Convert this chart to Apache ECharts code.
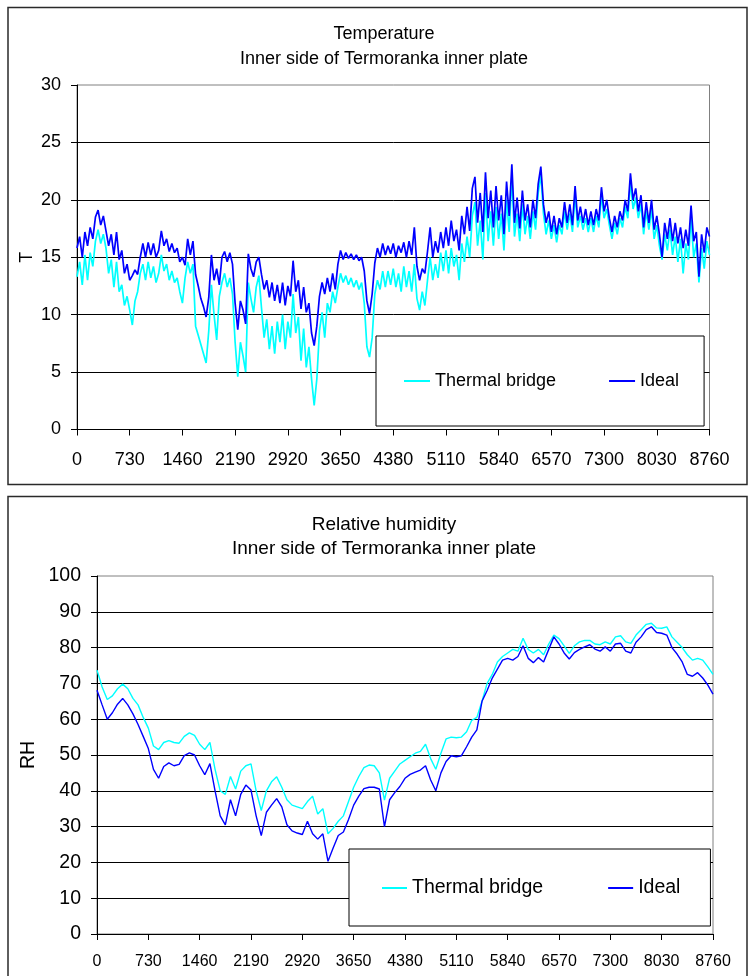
<!DOCTYPE html>
<html>
<head>
<meta charset="utf-8">
<script src="https://cdn.jsdelivr.net/npm/echarts@6/dist/echarts.min.js"></script>
<style>
  html, body { margin: 0; padding: 0; background: #fff; }
  #chart { width: 748px; height: 976px; }
</style>
</head>
<body>
<div id="chart"></div>
<script>
// Hours of the year on the x axis; one sample every TEMP_STEP / RH_STEP hours.
const TEMP_STEP = 36.5;
const RH_STEP = 73;
const seriesNames = ['Thermal bridge', 'Ideal'];

// Temperature, inner side of the inner plate (°C)
const tempThermalBridge = [
  13.3, 14.6, 12.6, 15.2, 13.0, 15.4, 14.2, 16.4, 17.4, 16.2,
  17.0, 15.8, 13.6, 14.8, 12.4, 14.6, 12.0, 12.6, 10.8, 11.6,
  10.4, 9.1, 11.2, 12.0, 13.6, 14.4, 13.0, 14.6, 13.2, 14.2,
  12.8, 13.6, 15.2, 13.8, 14.4, 13.0, 13.8, 12.8, 13.2, 12.0,
  11.0, 13.2, 14.6, 13.6, 14.4, 9.0, 8.2, 7.4, 6.6, 5.8,
  8.6, 12.6, 10.0, 7.8, 11.6, 12.8, 13.6, 12.4, 13.2, 11.8,
  7.6, 4.6, 7.6, 6.4, 5.0, 12.8, 11.4, 10.2, 12.4, 13.4,
  10.6, 8.0, 9.6, 7.0, 9.0, 6.6, 9.4, 7.6, 10.0, 7.0,
  9.4, 8.0, 11.8, 8.4, 9.8, 6.0, 8.8, 5.4, 7.2, 4.4,
  2.1, 4.4, 8.6, 10.2, 8.0, 11.0, 10.2, 12.0, 11.0, 12.4,
  13.6, 12.8, 13.4, 12.6, 13.2, 12.4, 13.0, 12.2, 12.8, 11.0,
  7.2, 6.3, 8.0, 11.8, 13.0, 12.2, 13.8, 12.4, 13.8, 12.6,
  14.0, 12.4, 13.6, 12.0, 14.2, 12.4, 13.8, 12.0, 14.4, 11.4,
  10.4, 12.0, 10.8, 13.0, 15.0, 13.0, 14.4, 13.2, 15.4, 13.8,
  15.6, 13.6, 15.8, 14.2, 15.2, 13.0, 16.2, 14.6, 16.8, 15.0,
  18.6, 19.8, 16.0, 18.2, 14.8, 20.6, 16.4, 19.0, 16.0, 19.4,
  16.6, 18.8, 15.6, 20.0, 17.2, 22.0, 16.8, 18.8, 16.4, 19.6,
  17.0, 18.6, 16.6, 19.0, 17.4, 20.6, 22.2, 18.8, 17.0, 18.2,
  16.6, 17.8, 16.3, 17.8, 17.0, 19.0, 17.4, 18.8, 17.2, 20.4,
  17.6, 18.6, 17.4, 18.4, 17.2, 18.4, 17.2, 18.6, 17.6, 20.4,
  18.4, 19.2, 17.8, 16.6, 18.0, 17.0, 18.4, 17.6, 19.4, 18.4,
  21.6, 19.2, 20.2, 18.4, 19.6, 17.0, 19.0, 17.4, 19.2, 16.6,
  17.8, 16.0, 14.8, 17.0, 15.6, 17.4, 15.2, 16.8, 14.6, 16.6,
  13.6, 16.2, 14.8, 18.4, 15.0, 16.2, 12.8, 15.8, 14.0, 16.4,
  15.2
];
const tempIdeal = [
  15.8, 16.8, 15.0, 17.2, 16.0, 17.6, 16.6, 18.5, 19.1, 17.8,
  18.6, 17.3, 16.0, 17.0, 15.2, 17.2, 14.8, 15.6, 13.6, 14.4,
  13.0, 13.4, 13.9, 13.5, 15.0, 16.2, 15.0, 16.3, 15.2, 16.2,
  15.0, 15.6, 17.3, 16.0, 16.6, 15.5, 16.2, 15.4, 15.8, 14.6,
  15.0, 14.3, 16.6, 15.2, 16.4, 13.5, 12.5, 11.4, 10.7, 9.8,
  11.5, 15.2, 13.0, 14.0, 12.6, 15.0, 15.5, 14.6, 15.4, 14.4,
  11.0, 8.7, 11.2, 10.4, 9.2, 15.3, 14.0, 13.3, 14.6, 15.0,
  13.5, 12.2, 13.0, 11.5, 12.8, 11.2, 12.6, 11.0, 12.8, 10.8,
  12.5, 11.6, 14.7, 12.0, 13.0, 10.5, 12.4, 10.2, 11.0, 8.4,
  7.3, 9.0, 11.6, 12.8, 11.8, 13.2, 12.0, 13.6, 12.2, 14.4,
  15.6, 14.8, 15.4, 14.9, 15.3, 14.8, 15.2, 14.7, 15.0, 13.8,
  11.2, 10.1, 11.8, 14.5, 15.8, 15.0, 16.2, 15.2, 16.0, 15.3,
  16.2, 15.0, 16.0, 15.4, 16.3, 15.0, 16.4, 15.2, 17.6, 14.2,
  13.0, 14.0, 13.6, 15.5, 17.6, 15.0, 16.4, 15.4, 17.2, 15.8,
  17.6, 16.0, 18.2, 16.4, 17.4, 15.6, 18.6, 17.0, 19.4, 17.3,
  21.0, 22.0, 18.0, 20.6, 17.2, 22.4, 18.4, 20.8, 17.6, 21.2,
  18.2, 20.4, 17.0, 21.6, 18.6, 23.1, 18.0, 20.2, 17.5, 20.8,
  18.2, 19.6, 17.6, 20.0, 18.4, 21.4, 22.9, 19.6, 18.0, 19.0,
  17.2, 18.6, 17.0, 18.4, 17.6, 19.8, 18.0, 19.6, 17.8, 21.2,
  18.2, 19.4, 18.0, 19.2, 17.8, 19.0, 17.8, 19.2, 18.2, 21.1,
  19.0, 20.0, 18.4, 17.2, 18.6, 17.6, 19.0, 18.2, 20.0, 19.0,
  22.3, 20.0, 21.0, 19.0, 20.4, 17.6, 19.8, 18.0, 20.0, 17.4,
  18.6, 17.0, 15.0, 18.0, 16.6, 18.4, 16.4, 18.0, 16.2, 17.6,
  15.8, 17.4, 16.0, 19.5, 16.4, 17.2, 13.3, 17.0, 15.4, 17.6,
  16.8
];

// Relative humidity, inner side of the inner plate (%)
const rhThermalBridge = [
  73.7, 69.0, 65.5, 66.5, 68.5, 69.8, 68.5, 65.8, 64.0, 60.5,
  57.5, 52.5, 51.5, 53.5, 54.0, 53.5, 53.3, 55.2, 56.2, 55.5,
  53.0, 51.5, 53.5, 46.0, 40.0, 39.0, 44.0, 40.5, 45.5, 47.0,
  47.5, 40.0, 34.5, 40.0, 42.5, 43.9, 41.0, 37.5, 36.0, 35.5,
  35.0, 37.0, 38.5, 33.5, 35.0, 28.0, 29.5, 31.5, 33.0, 37.0,
  41.0, 44.0, 46.5, 47.2, 47.0, 45.0, 37.4, 43.5, 45.5, 47.5,
  48.5, 49.5, 50.5, 51.0, 53.0, 49.0, 46.0, 50.5, 54.5, 55.0,
  54.8, 55.0, 56.5, 59.7, 60.5, 65.0, 70.0, 72.5, 76.0, 77.5,
  78.5, 79.5, 79.0, 82.6, 79.5, 78.5, 79.5, 78.0, 81.0, 83.5,
  82.5, 80.5, 78.4, 80.5, 81.6, 82.0, 82.0, 81.0, 80.8, 81.6,
  81.0, 83.0, 83.3, 81.6, 81.2, 83.5, 85.0, 86.5, 86.8, 85.5,
  85.4, 85.8, 83.0, 81.5, 80.0, 78.0, 76.5, 77.0, 76.5, 74.6,
  72.5
];
const rhIdeal = [
  68.1, 64.0, 60.0, 61.8, 64.2, 65.8, 64.0, 61.5, 58.5, 55.2,
  51.8, 46.0, 43.5, 46.8, 47.8, 47.0, 47.4, 49.8, 50.6, 50.0,
  47.0, 44.5, 47.6, 40.0, 33.0, 30.5, 37.5, 33.0, 39.0, 41.6,
  40.2, 33.0, 27.5, 34.0, 36.0, 37.8, 35.5, 30.5, 28.8, 28.2,
  27.8, 31.5, 28.0, 26.5, 28.0, 20.3, 24.0, 27.5, 28.5, 32.0,
  36.0, 38.5, 40.6, 41.0, 41.0, 40.5, 30.0, 37.5, 39.5, 41.2,
  43.5, 44.6, 45.2, 45.8, 47.0, 43.0, 40.0, 45.0, 48.2, 49.8,
  49.5, 49.8, 52.3, 55.0, 57.0, 65.0, 68.0, 71.5, 74.0, 76.5,
  77.0, 76.5, 77.5, 80.5, 77.0, 75.8, 77.2, 76.0, 79.5, 83.0,
  81.0, 78.5, 76.8, 78.6, 79.5, 80.2, 80.8, 79.6, 79.0, 80.2,
  79.0, 81.0, 81.2, 79.0, 78.5, 81.5, 83.0, 85.0, 85.8, 84.2,
  84.0, 83.5, 80.0, 78.2, 76.0, 72.5, 72.0, 73.0, 71.5, 69.5,
  67.0
];

const COLOR_BRIDGE = '#00FFFF';
const COLOR_IDEAL = '#0000FF';
const FONT = 'Liberation Sans, Arial, sans-serif';

// pair each sample with its hour of the year
function withHours(values, step) {
  return values.map((v, i) => [i * step, v]);
}

function lineSeries(name, values, step, color, axisIndex, width) {
  return {
    name: name,
    type: 'line',
    xAxisIndex: axisIndex,
    yAxisIndex: axisIndex,
    data: withHours(values, step),
    symbol: 'none',
    showSymbol: false,
    sampling: null,
    lineStyle: { color: color, width: width },
    itemStyle: { color: color },
    emphasis: { disabled: true }
  };
}

function hourAxis(gridIndex, fontSize, margin) {
  return {
    type: 'value',
    gridIndex: gridIndex,
    min: 0, max: 8760, interval: 730,
    axisLine: { show: true, lineStyle: { color: '#000', width: 1 } },
    axisTick: { show: true, inside: false, length: 6, lineStyle: { color: '#000' } },
    axisLabel: {
      color: '#000', fontSize: fontSize, fontFamily: FONT, margin: margin,
      formatter: (v) => String(v)
    },
    splitLine: { show: false }
  };
}

function valueAxis(gridIndex, max, interval, name, fontSize, nameGap) {
  return {
    type: 'value',
    gridIndex: gridIndex,
    min: 0, max: max, interval: interval,
    name: name,
    nameLocation: 'middle',
    nameRotate: 90,
    nameGap: nameGap,
    nameMoveOverlap: false,
    nameTextStyle: { color: '#000', fontSize: fontSize, fontFamily: FONT },
    axisLine: { show: true, lineStyle: { color: '#000', width: 1 } },
    axisTick: { show: true, inside: false, length: 6, lineStyle: { color: '#000' } },
    axisLabel: { color: '#000', fontSize: fontSize, fontFamily: FONT, margin: 16 },
    splitLine: { show: true, showMaxLine: false, lineStyle: { color: '#000', width: 1 } }
  };
}

const chart = echarts.init(document.getElementById('chart'), null, { renderer: 'canvas' });

chart.setOption({
  animation: false,
  backgroundColor: '#fff',
  textStyle: { fontFamily: FONT },
  title: [
    {
      text: 'Temperature\nInner side of Termoranka inner plate',
      left: 384, top: 22, textAlign: 'center', padding: 0,
      textStyle: { fontSize: 18, fontWeight: 'normal', color: '#000', lineHeight: 25, fontFamily: FONT }
    },
    {
      text: 'Relative humidity\nInner side of Termoranka inner plate',
      left: 384, top: 513, textAlign: 'center', padding: 0,
      textStyle: { fontSize: 19, fontWeight: 'normal', color: '#000', lineHeight: 24, fontFamily: FONT }
    }
  ],
  grid: [
    { left: 77, right: 38.5, top: 85, bottom: 546.5, show: true, borderColor: '#808080', borderWidth: 1, containLabel: false },
    { left: 97, right: 35, top: 576, bottom: 42, show: true, borderColor: '#808080', borderWidth: 1, containLabel: false }
  ],
  xAxis: [hourAxis(0, 18, 22), hourAxis(1, 16, 19.5)],
  yAxis: [valueAxis(0, 30, 5, 'T', 18, 41), valueAxis(1, 100, 10, 'RH', 19.5, 58)],
  legend: [
    {
      data: seriesNames,
      left: 376, top: 336,
      orient: 'horizontal',
      icon: 'rect', itemWidth: 26, itemHeight: 2, itemGap: 53,
      padding: [35, 25, 35, 28],
      borderColor: '#000', borderWidth: 1, backgroundColor: '#fff',
      selectedMode: false,
      textStyle: { color: '#000', fontSize: 18, lineHeight: 20, fontFamily: FONT }
    },
    {
      data: seriesNames,
      left: 349, top: 849,
      orient: 'horizontal',
      icon: 'rect', itemWidth: 25, itemHeight: 2, itemGap: 65,
      padding: [29, 30, 28, 33],
      borderColor: '#000', borderWidth: 1, backgroundColor: '#fff',
      selectedMode: false,
      textStyle: { color: '#000', fontSize: 19.5, lineHeight: 20, fontFamily: FONT }
    }
  ],
  graphic: [
    { type: 'rect', silent: true, z: 100,
      shape: { x: 8, y: 7.5, width: 739, height: 477 },
      style: { fill: 'none', stroke: '#2a2a2a', lineWidth: 1.5 } },
    { type: 'rect', silent: true, z: 100,
      shape: { x: 8, y: 496.5, width: 739, height: 500 },
      style: { fill: 'none', stroke: '#2a2a2a', lineWidth: 1.5 } }
  ],
  series: [
    lineSeries(seriesNames[0], tempThermalBridge, TEMP_STEP, COLOR_BRIDGE, 0, 1.7),
    lineSeries(seriesNames[1], tempIdeal, TEMP_STEP, COLOR_IDEAL, 0, 1.7),
    lineSeries(seriesNames[0], rhThermalBridge, RH_STEP, COLOR_BRIDGE, 1, 1.4),
    lineSeries(seriesNames[1], rhIdeal, RH_STEP, COLOR_IDEAL, 1, 1.4)
  ]
});
</script>
</body>
</html>
